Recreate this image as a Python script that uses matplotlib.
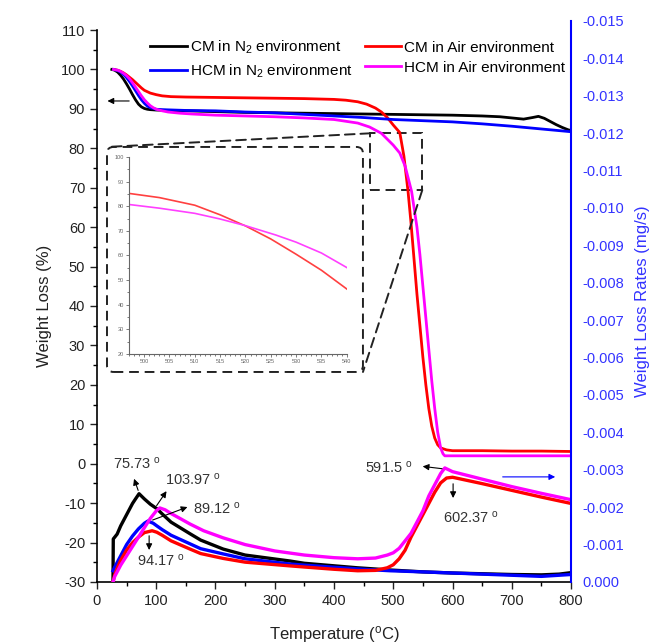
import matplotlib
matplotlib.use("Agg")
import matplotlib.pyplot as plt
from matplotlib.patches import FancyBboxPatch, Rectangle, ConnectionPatch
from matplotlib.ticker import MultipleLocator

plt.rcParams['font.family'] = ['Liberation Sans', 'DejaVu Sans']
plt.rcParams['mathtext.fontset'] = 'custom'
plt.rcParams['mathtext.rm'] = 'Liberation Sans'
plt.rcParams['mathtext.it'] = 'Liberation Sans:italic'
plt.rcParams['axes.unicode_minus'] = False

# ---- TG curves (weight %, left axis) ----
t_cm_n2 = [25, 30, 35, 40, 45, 50, 55, 60, 65, 70, 75, 80, 85, 90, 100, 120, 150, 200, 250, 300, 350, 400,
           450, 500, 550, 600, 650, 680, 700, 720, 735, 745, 755, 765, 775, 785, 795, 800]
w_cm_n2 = [100, 99.8, 99.3, 98.5, 97.5, 96.3, 95, 93.6, 92.3, 91.2, 90.5, 90.1, 89.9, 89.8, 89.7, 89.6, 89.5,
           89.3, 89.1, 89.0, 88.9, 88.8, 88.7, 88.6, 88.5, 88.4, 88.2, 88.0, 87.7, 87.4, 87.8, 88.1, 87.6,
           86.8, 86.0, 85.3, 84.7, 84.5]

t_hcm_n2 = [28, 35, 40, 45, 50, 55, 60, 65, 70, 75, 80, 85, 90, 95, 100, 110, 130, 150, 200, 250, 300, 350,
            400, 450, 500, 550, 600, 650, 700, 750, 800]
w_hcm_n2 = [100, 99.7, 99.3, 98.7, 97.9, 96.9, 95.8, 94.6, 93.4, 92.3, 91.4, 90.7, 90.3, 90.1, 89.9, 89.8,
            89.7, 89.6, 89.5, 89.2, 89.0, 88.6, 88.2, 87.8, 87.3, 87.0, 86.7, 86.2, 85.6, 84.9, 84.2]

t_cm_air = [28, 35, 40, 45, 50, 55, 60, 65, 70, 75, 80, 90, 100, 110, 125, 150, 200, 250, 300, 350, 400, 420,
            440, 455, 470, 480, 490, 500, 511, 518, 525, 530, 535, 540, 545, 550, 555, 560, 565, 570, 575,
            580, 590, 600, 650, 700, 750, 800]
w_cm_air = [100, 99.8, 99.5, 99.1, 98.6, 98, 97.4, 96.7, 96.0, 95.3, 94.7, 94.0, 93.6, 93.3, 93.1, 93.0, 92.9,
            92.8, 92.7, 92.6, 92.4, 92.2, 91.8, 91.2, 90.2, 89.2, 87.8, 85.9, 84, 78, 69, 61, 52, 43, 35,
            27, 20, 14, 9.5, 6.5, 4.8, 4.0, 3.5, 3.3, 3.3, 3.2, 3.2, 3.1]

t_hcm_air = [28, 35, 40, 45, 50, 55, 60, 65, 70, 75, 80, 85, 90, 95, 100, 110, 120, 140, 160, 200, 250, 300,
             350, 400, 440, 460, 480, 500, 511, 520, 531, 540, 545, 550, 555, 560, 565, 570, 575, 580, 584,
             587, 600, 700, 800]
w_hcm_air = [100, 99.8, 99.5, 99.0, 98.4, 97.6, 96.6, 95.5, 94.4, 93.3, 92.3, 91.5, 90.8, 90.3, 89.9, 89.5,
             89.2, 88.9, 88.7, 88.4, 88.2, 88.0, 87.7, 87.3, 86.4, 85.4, 83.8, 80.8, 78.8, 75.5, 69, 60, 53,
             45, 37, 29, 21, 14, 8, 4, 2.5, 2.0, 2.0, 2.0, 2.0]

# ---- DTG curves (mg/s, right axis) ----
td_cm_n2 = [27, 27.5, 34, 40, 45, 50, 55, 60, 65, 71, 80, 90, 101, 110, 125, 157, 175, 213, 250, 326, 350,
            439, 495, 550, 600, 650, 700, 750, 780, 800]
r_cm_n2 = [0, -0.00115, -0.00128, -0.0015, -0.00165, -0.0018, -0.00195, -0.0021, -0.00222, -0.00236,
           -0.00222, -0.00208, -0.00196, -0.00182, -0.00160, -0.00129, -0.00112, -0.00088, -0.00072,
           -0.00056, -0.00050, -0.00038, -0.00032, -0.00027, -0.00024, -0.00022, -0.00020, -0.00019,
           -0.00021, -0.00025]

td_hcm_n2 = [27, 30, 40, 50, 60, 70, 80, 86, 95, 101, 110, 125, 157, 175, 213, 250, 326, 350, 439, 495, 550,
             600, 650, 700, 750, 780, 800]
r_hcm_n2 = [-0.0003, -0.0004, -0.0007, -0.001, -0.00123, -0.00142, -0.00157, -0.00163, -0.00157, -0.0015,
            -0.0014, -0.00125, -0.00102, -0.00089, -0.00075, -0.00062, -0.00048, -0.00045, -0.00035,
            -0.0003, -0.00027, -0.00024, -0.00021, -0.00018, -0.00015, -0.00018, -0.0002]

td_cm_air = [27, 30, 35, 40, 50, 60, 70, 80, 93, 101, 110, 125, 157, 175, 213, 250, 326, 350, 400, 440, 470,
             490, 500, 510, 520, 530, 540, 550, 560, 570, 580, 590, 600, 650, 700, 750, 800]
r_cm_air = [0, -0.0002, -0.0004, -0.00058, -0.00085, -0.00105, -0.0012, -0.00132, -0.00137, -0.00133,
            -0.00125, -0.0011, -0.00088, -0.00076, -0.00063, -0.00053, -0.00043, -0.0004, -0.00034,
            -0.0003, -0.00031, -0.00038, -0.00046, -0.00062, -0.00085, -0.0012, -0.0015, -0.0018,
            -0.0021, -0.0024, -0.00265, -0.00278, -0.0028, -0.00263, -0.00245, -0.00227, -0.0021]

td_hcm_air = [27, 30, 35, 40, 50, 60, 70, 80, 90, 100, 106, 115, 125, 140, 157, 180, 213, 250, 300, 350, 400,
              440, 470, 490, 500, 510, 520, 530, 540, 550, 560, 570, 580, 587, 600, 650, 700, 750, 800]
r_hcm_air = [0, -0.00015, -0.0003, -0.00045, -0.0007, -0.00095, -0.0012, -0.00145, -0.0017, -0.0019,
             -0.00198, -0.00193, -0.00183, -0.0017, -0.00155, -0.00137, -0.00118, -0.001, -0.00083,
             -0.00072, -0.00065, -0.00062, -0.00064, -0.00072, -0.00078, -0.0009, -0.0011, -0.0013,
             -0.0016, -0.0019, -0.0023, -0.0026, -0.0029, -0.00305, -0.00295, -0.00275, -0.00255,
             -0.00237, -0.0022]

# ---- inset (zoom of the air curves) ----
t_inset_cm = [497, 503, 510, 515, 520, 525, 530, 535, 540]
w_inset_cm = [85.2, 83.5, 80.4, 76.5, 72.0, 66.7, 60.5, 54.0, 46.4]
t_inset_hcm = [497, 503, 510, 515, 520, 526, 530, 535, 540]
w_inset_hcm = [80.7, 79.2, 77.1, 74.8, 72.1, 68.3, 65.4, 61.0, 55.1]

labels = ['CM in N$_2$ environment', 'CM in Air environment',
          'HCM in N$_2$ environment', 'HCM in Air environment']
colors = ['black', 'red', 'blue', 'magenta']

fig = plt.figure(figsize=(6.58, 6.44), dpi=100)
ax = fig.add_axes([0.1474, 0.0963, 0.7204, 0.8571])
ax2 = fig.add_axes([0.1474, 0.0963, 0.7204, 0.8711])
ax2.patch.set_visible(False)

# TG
h1, = ax.plot(t_cm_n2, w_cm_n2, color=colors[0], lw=2)
h2, = ax.plot(t_cm_air, w_cm_air, color=colors[1], lw=2)
h3, = ax.plot(t_hcm_n2, w_hcm_n2, color=colors[2], lw=2)
h4, = ax.plot(t_hcm_air, w_hcm_air, color=colors[3], lw=2)

# DTG
ax2.plot(td_cm_n2, r_cm_n2, color=colors[0], lw=2.4)
ax2.plot(td_hcm_n2, r_hcm_n2, color=colors[2], lw=2.4)
ax2.plot(td_cm_air, r_cm_air, color=colors[1], lw=2.4)
ax2.plot(td_hcm_air, r_hcm_air, color=colors[3], lw=2.4)

ax.set_xlim(0, 800)
ax.set_ylim(-30, 110)
ax2.set_xlim(0, 800)
ax2.set_ylim(0, -0.015)

ax.xaxis.set_major_locator(MultipleLocator(100))
ax.xaxis.set_minor_locator(MultipleLocator(50))
ax.yaxis.set_major_locator(MultipleLocator(10))
ax.yaxis.set_minor_locator(MultipleLocator(5))
ax.tick_params(which='major', direction='out', length=5, width=1, labelsize=10.5, colors='#222222')
ax.tick_params(which='minor', direction='out', length=3, width=1)
ax.spines['top'].set_visible(False)
ax.spines['right'].set_visible(False)
for s in ('left', 'bottom'):
    ax.spines[s].set_linewidth(1.2)

ax2.yaxis.set_major_locator(MultipleLocator(0.001))
ax2.yaxis.tick_right()
ax2.yaxis.set_label_position('right')
ax2.tick_params(axis='y', length=0, pad=8, labelsize=10.5, labelcolor='#3333ff')
ax2.yaxis.set_major_formatter(plt.FuncFormatter(lambda v, p: f'{v:.3f}'))
ax2.xaxis.set_visible(False)
for s in ('left', 'top', 'bottom'):
    ax2.spines[s].set_visible(False)
ax2.spines['right'].set_color('blue')
ax2.spines['right'].set_linewidth(1.5)

ax.set_xlabel('Temperature ($^{\\rm o}$C)', fontsize=12, color='#222222', labelpad=12)
ax.set_ylabel('Weight Loss (%)', fontsize=12, color='#222222', labelpad=6)
ax2.set_ylabel('Weight Loss Rates (mg/s)', fontsize=12, color='#3333ff', labelpad=8)

fig.legend([h1, h3, h2, h4], [labels[0], labels[2], labels[1], labels[3]], ncol=2,
           loc='upper left', bbox_to_anchor=(0.228, 0.940), frameon=False, fontsize=11,
           handlelength=2.4, handletextpad=0.2, columnspacing=0.8, labelspacing=0.4,
           borderpad=0, borderaxespad=0)

# annotations on DTG peaks
arrow_kw = dict(arrowstyle='-|>', color='black', lw=0.8, mutation_scale=9)
notes = [
    ('75.73 $^{\\rm o}$', (71, -0.00238), (61, -0.00283), (27, -0.00316)),
    ('103.97 $^{\\rm o}$', (98, -0.00198), (120, -0.00249), (115, -0.00273)),
    ('89.12 $^{\\rm o}$', (89.5, -0.00163), (157, -0.00203), (162, -0.00195)),
    ('94.17 $^{\\rm o}$', (88, -0.00131), (88, -0.00078), (67, -0.00056)),
    ('591.5 $^{\\rm o}$', (587, -0.00302), (545, -0.0031), (452, -0.00305)),
    ('602.37 $^{\\rm o}$', (601, -0.0027), (601, -0.00217), (584, -0.00171)),
]
for txt, tail, head, pos in notes:
    ax2.annotate('', xy=head, xytext=tail, arrowprops=arrow_kw)
    ax2.text(pos[0], pos[1], txt, fontsize=10.5, color='#333333', va='center', ha='left')

ax2.annotate('', xy=(778, -0.00281), xytext=(680, -0.00281),
             arrowprops=dict(arrowstyle='-|>', color='blue', lw=0.8, mutation_scale=9))
ax.annotate('', xy=(13, 92), xytext=(59, 92),
            arrowprops=dict(arrowstyle='-|>', color='black', lw=0.8, mutation_scale=9))

# zoom rectangle + inset frame
dash = (0, (5, 3))
ax.add_patch(Rectangle((461, 69.4), 88, 14.4, fill=False, ls=dash, lw=1.4, color='#222222'))
box = FancyBboxPatch((0.1626, 0.4224), 0.389, 0.3494, boxstyle='round,pad=0,rounding_size=0.01',
                     transform=fig.transFigure, fill=False, ls=dash, lw=1.4, ec='#222222')
fig.patches.append(box)
con1 = ConnectionPatch(xyA=(461, 83.8), coordsA='data', axesA=ax,
                       xyB=(0.1626, 0.7718), coordsB='figure fraction', ls=dash, lw=1.4, color='#222222')
con2 = ConnectionPatch(xyA=(549, 69.4), coordsA='data', axesA=ax,
                       xyB=(0.5516, 0.4224), coordsB='figure fraction', ls=dash, lw=1.4, color='#222222')
fig.add_artist(con1)
fig.add_artist(con2)

axi = fig.add_axes([0.196, 0.4503, 0.331, 0.306])
axi.plot(t_inset_cm, w_inset_cm, color='#ff4040', lw=1.2)
axi.plot(t_inset_hcm, w_inset_hcm, color='#ff40ff', lw=1.2)
axi.set_xlim(497, 540)
axi.set_ylim(20, 100)
axi.xaxis.set_major_locator(MultipleLocator(5))
axi.xaxis.set_minor_locator(MultipleLocator(1))
axi.yaxis.set_major_locator(MultipleLocator(10))
axi.yaxis.set_minor_locator(MultipleLocator(5))
axi.tick_params(which='both', direction='out', labelsize=4, colors='#666666', length=2, width=0.6, pad=1.5)
axi.tick_params(which='minor', length=1.2)
axi.spines['top'].set_visible(False)
axi.spines['right'].set_visible(False)
for s in ('left', 'bottom'):
    axi.spines[s].set_color('#666666')
    axi.spines[s].set_linewidth(0.8)

fig.savefig('out.png', dpi=100)
